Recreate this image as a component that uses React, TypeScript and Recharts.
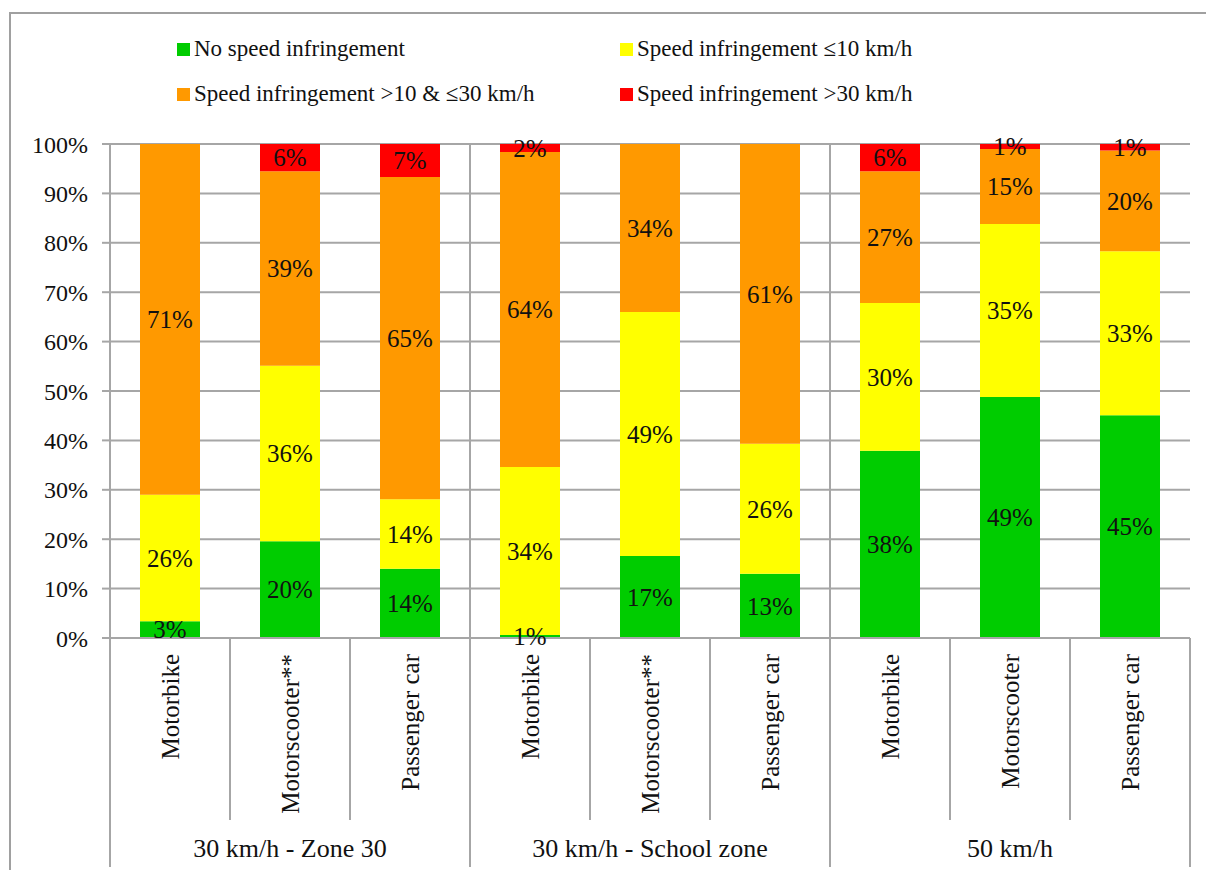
import React from "react";
import { BarChart, Bar, XAxis, YAxis, CartesianGrid, ReferenceLine, LabelList } from "recharts";

const groups = ["30 km/h - Zone 30", "30 km/h - School zone", "50 km/h"];
const vehicles = [
  "Motorbike", "Motorscooter**", "Passenger car",
  "Motorbike", "Motorscooter**", "Passenger car",
  "Motorbike", "Motorscooter", "Passenger car",
];
const noInfringement = [3.4, 19.6, 14.0, 0.6, 16.6, 13.0, 37.9, 48.8, 45.1];
const upTo10 = [25.6, 35.5, 14.1, 34.0, 49.4, 26.3, 29.9, 35.0, 33.2];
const from10to30 = [71.0, 39.4, 65.2, 63.8, 34.0, 60.7, 26.7, 15.2, 20.4];
const over30 = [0, 5.5, 6.7, 1.6, 0, 0, 5.5, 1.0, 1.3];
const yTicks = [0, 10, 20, 30, 40, 50, 60, 70, 80, 90, 100];

const series = [
  { key: "none", name: "No speed infringement", color: "#00CC00", values: noInfringement },
  { key: "low", name: "Speed infringement \u226410 km/h", color: "#FFFF00", values: upTo10 },
  { key: "mid", name: "Speed infringement >10 & \u226430 km/h", color: "#FF9900", values: from10to30 },
  { key: "high", name: "Speed infringement >30 km/h", color: "#FF0000", values: over30 },
];

const data = vehicles.map((v, i) => {
  const row: Record<string, number | string> = { pos: i + 0.5, vehicle: v };
  series.forEach((s) => (row[s.key] = s.values[i]));
  return row;
});

const xTicks: number[] = [];
for (let i = 0; i <= vehicles.length; i++) {
  xTicks.push(i);
  if (i < vehicles.length) xTicks.push(i + 0.5);
}

const FONT = "Liberation Serif, DejaVu Serif, serif";
const GRID = "#A6A6A6";

const XTick = (props: any) => {
  const { x, y, payload } = props;
  const v = payload.value as number;
  if (Number.isInteger(v)) {
    const len = v % 3 === 0 ? 229 : 182;
    return <line x1={x} y1={y} x2={x} y2={y + len} stroke={GRID} strokeWidth={2} />;
  }
  const i = Math.floor(v);
  return (
    <g>
      <text
        x={x}
        y={y + 16}
        dy="0.35em"
        textAnchor="end"
        transform={`rotate(-90, ${x}, ${y + 16})`}
        fontSize={25}
        fill="#111"
        fontFamily={FONT}
      >
        {vehicles[i]}
      </text>
      {i % 3 === 1 && (
        <text x={x} y={y + 219} textAnchor="middle" fontSize={26} fill="#111" fontFamily={FONT}>
          {groups[Math.floor(i / 3)]}
        </text>
      )}
    </g>
  );
};

const fmt = (v: any) => (Number(v) > 0 ? `${Math.round(Number(v))}%` : "");

export default function App() {
  return (
    <div style={{ position: "absolute", left: 0, top: 0, width: 1206, height: 870, overflow: "hidden", background: "#fff" }}>
      <div
        style={{
          position: "absolute",
          left: 9,
          top: 12,
          width: 1210,
          height: 900,
          border: "2px solid #A0A0A0",
        }}
      />
      <div
        style={{
          position: "absolute",
          left: 177,
          top: 35,
          display: "grid",
          gridTemplateColumns: "443px 443px",
          rowGap: 17,
          fontFamily: FONT,
          fontSize: 23,
          color: "#111",
        }}
      >
        {series.map((s) => (
          <div key={s.key} style={{ display: "flex", alignItems: "center", height: 28 }}>
            <span style={{ width: 13, height: 13, background: s.color, marginRight: 4, display: "inline-block" }} />
            <span>{s.name}</span>
          </div>
        ))}
      </div>
      <BarChart
        width={1206}
        height={870}
        data={data}
        margin={{ top: 144, right: 16, left: 0, bottom: 0 }}
        style={{ position: "absolute", left: 0, top: 0, fontFamily: FONT }}
      >
        <CartesianGrid vertical={false} stroke={GRID} strokeWidth={2} />
        <XAxis
          dataKey="pos"
          type="number"
          domain={[0, 9]}
          ticks={xTicks}
          interval={0}
          height={232}
          tick={<XTick />}
          tickLine={false}
          tickSize={0}
          tickMargin={0}
          axisLine={{ stroke: GRID, strokeWidth: 2 }}
        />
        <YAxis
          domain={[0, 100]}
          ticks={yTicks}
          interval={0}
          width={110}
          tickFormatter={(v) => `${v}%`}
          tick={{ fontSize: 24, fill: "#111", fontFamily: FONT }}
          tickSize={8}
          tickMargin={14}
          tickLine={{ stroke: GRID, strokeWidth: 2 }}
          axisLine={{ stroke: GRID, strokeWidth: 2 }}
        />
        <ReferenceLine x={3} stroke={GRID} strokeWidth={2} />
        <ReferenceLine x={6} stroke={GRID} strokeWidth={2} />
        {series.map((s) => (
          <Bar key={s.key} dataKey={s.key} name={s.name} stackId="a" fill={s.color} barSize={60} isAnimationActive={false}>
            <LabelList dataKey={s.key} position="center" formatter={fmt} fontSize={25} fill="#111" fontFamily={FONT} />
          </Bar>
        ))}
      </BarChart>
    </div>
  );
}
